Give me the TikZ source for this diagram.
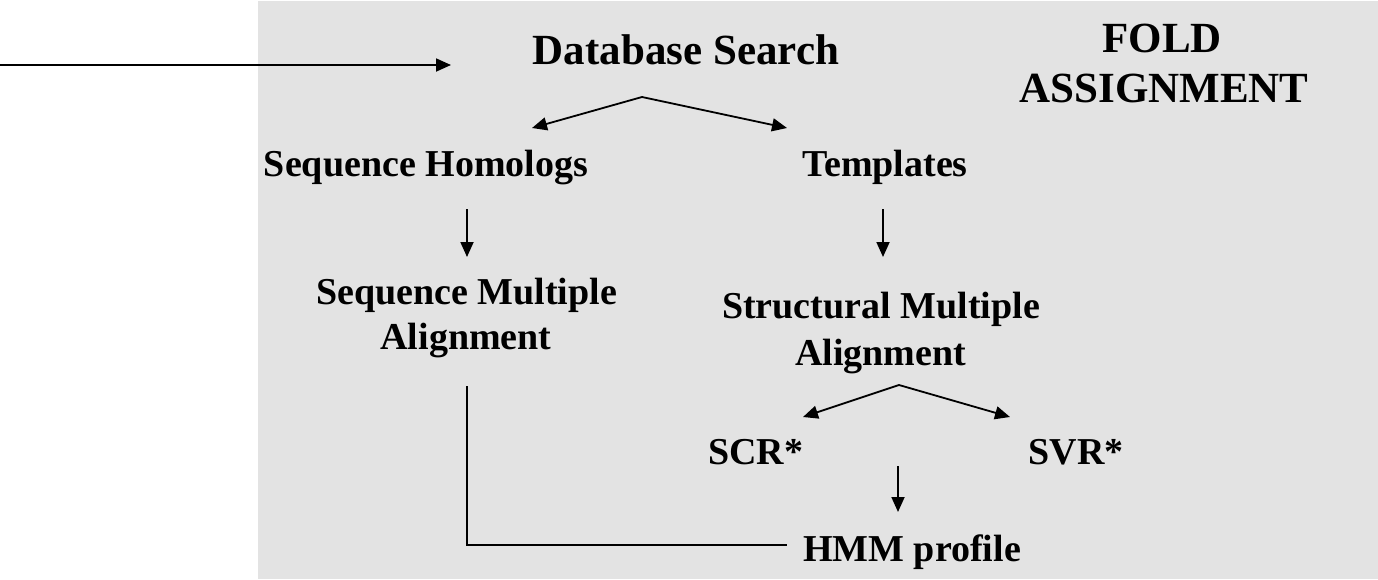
\documentclass[tikz,border=0pt]{standalone}
\usepackage{fontspec}
\setmainfont{Liberation Serif}
\usetikzlibrary{arrows.meta}
\definecolor{panel}{RGB}{227,227,227}

\begin{document}
\begin{tikzpicture}[x=1pt,y=-1pt,
  lbl/.style={font=\fontsize{38}{44}\selectfont\bfseries, inner sep=0pt, anchor=base},
  big/.style={lbl, font=\fontsize{43}{50}\selectfont\bfseries},
  link/.style={line width=1.8pt, -{Triangle[length=15pt,width=13pt]}},
  joint/.style={line width=1.8pt}]
\useasboundingbox (0,0) rectangle (1378,579);
\fill[panel] (258,1) rectangle (1378,579);

% labels
\node[big] (db)     at (686,64)  {Database Search};
\node[big] (fold)   at (1162,52) {FOLD};
\node[big] (assign) at (1164,102) {ASSIGNMENT};
\node[lbl] (seqhom) at (426,176) {Sequence Homologs};
\node[lbl] (templ)  at (885,176) {Templates};
\node[lbl] (seqma)  at (466.5,304) {Sequence Multiple};
\node[lbl] (seqal)  at (466,349) {Alignment};
\node[lbl] (strma)  at (881,318) {Structural Multiple};
\node[lbl] (stral)  at (880.5,365) {Alignment};
\node[lbl] (scr)    at (755.5,464) {SCR*};
\node[lbl] (svr)    at (1076,464) {SVR*};
\node[lbl] (hmm)    at (912,561) {HMM profile};

% connector end points
\coordinate (query)   at (0,65);
\coordinate (dbin)    at (451,65);
\coordinate (dbfork)  at (642,97);
\coordinate (homin)   at (532,128);
\coordinate (tplin)   at (787,128);
\coordinate (homout)  at (467,209);
\coordinate (seqin)   at (467,257);
\coordinate (tplout)  at (883,209);
\coordinate (strin)   at (883,257);
\coordinate (strfork) at (899,385);
\coordinate (scrin)   at (803,417);
\coordinate (svrin)   at (1010,417);
\coordinate (scrout)  at (898,466);
\coordinate (hmmin)   at (898,512);
\coordinate (seqout)  at (467,386);
\coordinate (hmmleft) at (787,545);

% connectors
\draw[link] (query) -- (dbin);
\draw[link] (dbfork) -- (homin);
\draw[link] (dbfork) -- (tplin);
\draw[link] (homout) -- (seqin);
\draw[link] (tplout) -- (strin);
\draw[link] (strfork) -- (scrin);
\draw[link] (strfork) -- (svrin);
\draw[link] (scrout) -- (hmmin);
\draw[joint] (seqout) |- (hmmleft);
\end{tikzpicture}
\end{document}
